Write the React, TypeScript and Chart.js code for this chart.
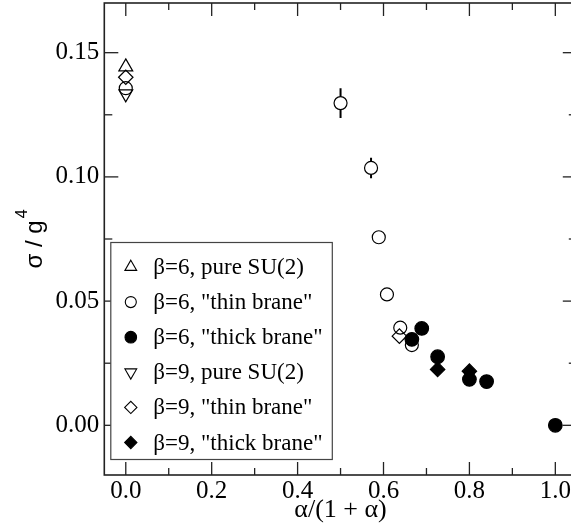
import React, { useEffect, useRef } from "react";
import { Chart, registerables } from "chart.js";
import { drawPoint } from "chart.js/helpers";

Chart.register(...registerables);

// ---------------- data ----------------
const b6PureX = [0];
const b6PureY = [0.1443];

const b6ThinX = [0, 0.5, 0.571, 0.589, 0.608, 0.639, 0.666];
const b6ThinY = [0.1357, 0.1297, 0.1036, 0.0757, 0.0527, 0.0393, 0.0323];
const b6ThinErr = [0, 0.006, 0.0041, 0, 0, 0, 0];

const b6ThickX = [0.666, 0.689, 0.726, 0.8, 0.84, 1.0];
const b6ThickY = [0.0346, 0.039, 0.0276, 0.0185, 0.0176, 0.0];

const b9PureX = [0];
const b9PureY = [0.1334];

const b9ThinX = [0, 0.637];
const b9ThinY = [0.1401, 0.0359];

const b9ThickX = [0.726, 0.8];
const b9ThickY = [0.0225, 0.0218];

const seriesLabels = [
  "β=6, pure SU(2)",
  'β=6, "thin brane"',
  'β=6, "thick brane"',
  "β=9, pure SU(2)",
  'β=9, "thin brane"',
  'β=9, "thick brane"',
];

const xTicks = [0, 0.2, 0.4, 0.6, 0.8, 1.0];
const xMinorTicks = [0.1, 0.3, 0.5, 0.7, 0.9];
const yTicks = [0, 0.05, 0.1, 0.15];
const yMinorTicks = [0.025, 0.075, 0.125];

const xTitle = "α/(1 + α)";
const yTitleMain = "σ / g";
const yTitleSup = "4";

// ---------------- helpers ----------------
const pts = (xs: number[], ys: number[]) => xs.map((x, i) => ({ x, y: ys[i] }));

const SERIF = '"Liberation Serif", "Times New Roman", serif';
const SANS = '"Liberation Sans", Arial, sans-serif';

const framePlugin = {
  id: "frameTicks",
  beforeDatasetsDraw(chart: any) {
    const { ctx, chartArea: a, scales } = chart;
    const x = scales.x;
    const y = scales.y;
    ctx.save();
    ctx.strokeStyle = "#222";
    ctx.lineWidth = 1.6;
    ctx.strokeRect(a.left, a.top, a.right - a.left, a.bottom - a.top);
    ctx.lineWidth = 1.3;
    const line = (x1: number, y1: number, x2: number, y2: number) => {
      ctx.beginPath();
      ctx.moveTo(x1, y1);
      ctx.lineTo(x2, y2);
      ctx.stroke();
    };
    xTicks.forEach((v) => {
      const px = x.getPixelForValue(v);
      line(px, a.bottom, px, a.bottom - 13);
      line(px, a.top, px, a.top + 13);
    });
    xMinorTicks.forEach((v) => {
      const px = x.getPixelForValue(v);
      line(px, a.bottom, px, a.bottom - 7);
      line(px, a.top, px, a.top + 7);
    });
    yTicks.forEach((v) => {
      const py = y.getPixelForValue(v);
      line(a.left, py, a.left + 14, py);
      line(a.right, py, a.right - 14, py);
    });
    yMinorTicks.forEach((v) => {
      const py = y.getPixelForValue(v);
      line(a.left, py, a.left + 8, py);
      line(a.right, py, a.right - 8, py);
    });
    ctx.restore();
  },
};

const errorBarPlugin = {
  id: "errorBars",
  afterDatasetsDraw(chart: any) {
    const { ctx, scales } = chart;
    const x = scales.x;
    const y = scales.y;
    const r = 6.5;
    ctx.save();
    ctx.strokeStyle = "#000";
    ctx.lineWidth = 2;
    b6ThinX.forEach((xv, i) => {
      const e = b6ThinErr[i];
      if (!e) return;
      const px = x.getPixelForValue(xv);
      const py = y.getPixelForValue(b6ThinY[i]);
      const top = y.getPixelForValue(b6ThinY[i] + e);
      const bot = y.getPixelForValue(b6ThinY[i] - e);
      ctx.beginPath();
      ctx.moveTo(px, top);
      ctx.lineTo(px, py - r);
      ctx.moveTo(px, py + r);
      ctx.lineTo(px, bot);
      ctx.stroke();
    });
    ctx.restore();
  },
};

const legendPlugin = {
  id: "insideLegend",
  afterDatasetsDraw(chart: any) {
    const { ctx, chartArea: a } = chart;
    const bx = a.left + 6.5;
    const by = a.top + 239.5;
    const bw = 221.5;
    const bh = 217;
    ctx.save();
    ctx.fillStyle = "#fff";
    ctx.fillRect(bx, by, bw, bh);
    ctx.strokeStyle = "#444";
    ctx.lineWidth = 1.2;
    ctx.strokeRect(bx, by, bw, bh);
    const order = [0, 1, 2, 3, 4, 5];
    order.forEach((idx, row) => {
      const ds = chart.data.datasets[idx];
      const cy = by + 24.5 + row * 35.1;
      const mx = bx + 20;
      ctx.fillStyle = ds.pointBackgroundColor;
      ctx.strokeStyle = "#000";
      ctx.lineWidth = 1.1;
      drawPoint(
        ctx,
        {
          pointStyle: ds.pointStyle,
          rotation: ds.pointRotation || 0,
          radius: ds.pointRadius * 0.85,
          borderWidth: 1.1,
        } as any,
        mx,
        cy
      );
      ctx.fillStyle = "#000";
      ctx.font = `23px ${SERIF}`;
      ctx.textAlign = "left";
      ctx.textBaseline = "middle";
      ctx.fillText(seriesLabels[idx], bx + 42.5, cy + 1);
    });
    ctx.restore();
  },
};

const yTitlePlugin = {
  id: "yTitle",
  afterDraw(chart: any) {
    const { ctx, chartArea: a } = chart;
    ctx.save();
    ctx.fillStyle = "#000";
    ctx.font = `24px ${SANS}`;
    const mainW = ctx.measureText(yTitleMain).width;
    ctx.font = `16px ${SANS}`;
    const supW = ctx.measureText(yTitleSup).width;
    const total = mainW + 2 + supW;
    const cy = (a.top + a.bottom) / 2;
    ctx.translate(41.5, cy);
    ctx.rotate(-Math.PI / 2);
    ctx.textAlign = "left";
    ctx.textBaseline = "alphabetic";
    ctx.font = `24px ${SANS}`;
    ctx.fillText(yTitleMain, -total / 2, 0);
    ctx.font = `16px ${SANS}`;
    ctx.fillText(yTitleSup, -total / 2 + mainW + 2, -15);
    ctx.restore();
  },
};

export default function App() {
  const canvasRef = useRef<HTMLCanvasElement | null>(null);

  useEffect(() => {
    const canvas = canvasRef.current;
    if (!canvas) return;
    const open = "rgba(0,0,0,0)";
    const base = { showLine: false, pointBorderColor: "#000", pointBorderWidth: 1.2 };
    const chart = new Chart(canvas, {
      type: "scatter",
      data: {
        datasets: [
          { ...base, label: seriesLabels[0], data: pts(b6PureX, b6PureY), pointStyle: "triangle", pointRotation: 0, pointRadius: 8, pointBackgroundColor: open, order: 1 },
          { ...base, label: seriesLabels[1], data: pts(b6ThinX, b6ThinY), pointStyle: "circle", pointRotation: 0, pointRadius: 6.5, pointBackgroundColor: open, order: 1 },
          { ...base, label: seriesLabels[2], data: pts(b6ThickX, b6ThickY), pointStyle: "circle", pointRotation: 0, pointRadius: 6.8, pointBackgroundColor: "#000", order: 0 },
          { ...base, label: seriesLabels[3], data: pts(b9PureX, b9PureY), pointStyle: "triangle", pointRotation: 180, pointRadius: 8, pointBackgroundColor: open, order: 1 },
          { ...base, label: seriesLabels[4], data: pts(b9ThinX, b9ThinY), pointStyle: "rectRot", pointRotation: 0, pointRadius: 7.2, pointBackgroundColor: open, order: 1 },
          { ...base, label: seriesLabels[5], data: pts(b9ThickX, b9ThickY), pointStyle: "rectRot", pointRotation: 0, pointRadius: 7.2, pointBackgroundColor: "#000", order: 0 },
        ] as any,
      },
      options: {
        animation: false,
        responsive: false,
        maintainAspectRatio: false,
        devicePixelRatio: 1,
        layout: { autoPadding: false, padding: { top: 3, right: 13.2, left: 0, bottom: 0 } },
        plugins: { legend: { display: false }, tooltip: { enabled: false } },
        scales: {
          x: {
            type: "linear",
            min: -0.05,
            max: 1.05,
            afterBuildTicks: (s: any) => {
              s.ticks = xTicks.map((v) => ({ value: v }));
            },
            afterFit: (s: any) => {
              s.height = 56;
              s.paddingLeft = 0;
              s.paddingRight = 0;
            },
            grid: { display: false, drawTicks: false },
            border: { display: false },
            ticks: {
              callback: (v: any) => Number(v).toFixed(1),
              font: { family: SERIF, size: 25 },
              color: "#000",
              padding: 1,
              maxRotation: 0,
              autoSkip: false,
            },
            title: {
              display: true,
              text: xTitle,
              font: { family: SERIF, size: 26 },
              color: "#000",
              padding: { top: 0, bottom: 5 },
            },
          },
          y: {
            type: "linear",
            min: -0.02,
            max: 0.17,
            afterBuildTicks: (s: any) => {
              s.ticks = yTicks.map((v) => ({ value: v }));
            },
            afterFit: (s: any) => {
              s.width = 104.3;
              s.paddingTop = 0;
              s.paddingBottom = 0;
            },
            grid: { display: false, drawTicks: false },
            border: { display: false },
            ticks: {
              callback: (v: any) => Number(v).toFixed(2),
              font: { family: SERIF, size: 25 },
              color: "#000",
              padding: 5,
              autoSkip: false,
            },
          },
        },
      } as any,
      plugins: [framePlugin, errorBarPlugin, legendPlugin, yTitlePlugin],
    });
    return () => chart.destroy();
  }, []);

  return (
    <div style={{ position: "fixed", left: 0, top: 0, width: 590, height: 531, background: "#fff" }}>
      <canvas ref={canvasRef} width={590} height={531} style={{ width: 590, height: 531, display: "block" }} />
    </div>
  );
}
